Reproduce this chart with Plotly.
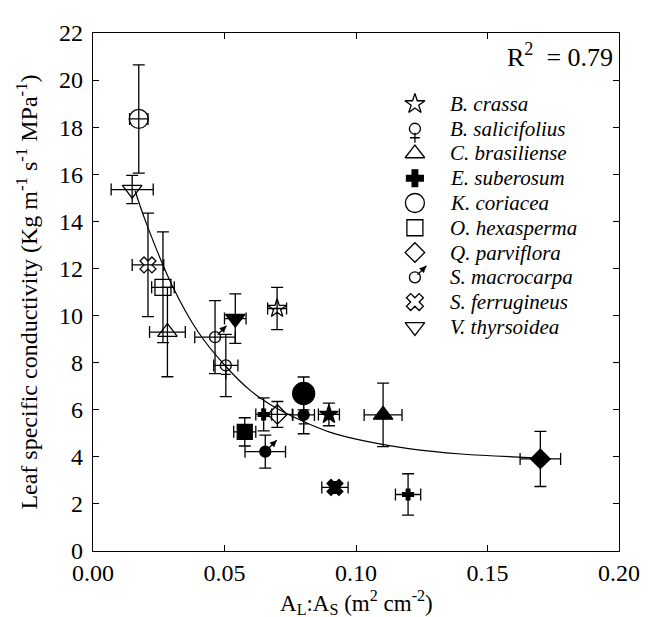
import plotly.graph_objects as go

# ---------------- data ----------------
species = ["B. crassa", "B. salicifolius", "C. brasiliense", "E. suberosum", "K. coriacea",
           "O. hexasperma", "Q. parviflora", "S. macrocarpa", "S. ferrugineus", "V. thyrsoidea"]

# open-symbol points
x_open = [0.070, 0.0505, 0.0283, 0.0649, 0.0174, 0.0266, 0.0701, 0.0464, 0.0209, 0.0149]
y_open = [10.3, 7.88, 9.3, 5.8, 18.35, 11.2, 5.8, 9.08, 12.15, 15.35]
xerr_open = [0.0036, 0.0046, 0.0068, 0.003, 0.0035, 0.0043, 0.0057, 0.0077, 0.006, 0.008]
yerr_open = [0.9, 1.32, 1.9, 0.7, 2.3, 2.35, 0.55, 1.55, 2.2, 0.6]

# filled-symbol points
x_filled = [0.0897, 0.0801, 0.1103, 0.1198, 0.0801, 0.0577, 0.1701, 0.0655, 0.092, 0.0541]
y_filled = [5.8, 5.78, 5.78, 2.4, 6.69, 5.06, 3.91, 4.22, 2.7, 9.87]
xerr_filled = [0.004, 0.0041, 0.0072, 0.0048, 0.002, 0.0042, 0.0077, 0.0077, 0.005, 0.0041]
yerr_filled = [0.48, 0.8, 1.35, 0.88, 0.7, 0.6, 1.17, 0.7, 0.25, 1.05]

# fitted curve, points
curve_x = [0.016, 0.02, 0.03, 0.04, 0.05, 0.06, 0.07, 0.08, 0.09, 0.10, 0.12, 0.14, 0.17]
curve_y = [15.3, 14.0, 11.3, 9.3, 7.9, 6.8, 6.05, 5.5, 5.05, 4.75, 4.35, 4.12, 3.95]

x_ticks = [0.00, 0.05, 0.10, 0.15, 0.20]
y_ticks = [0, 2, 4, 6, 8, 10, 12, 14, 16, 18, 20, 22]
r2_label = "R<sup>2</sup> \u00a0= 0.79"
x_title = "A<sub>L</sub>:A<sub>S</sub> (m<sup>2</sup> cm<sup>-2</sup>)"
y_title = "Leaf specific conductivity (Kg m<sup>-1</sup> s<sup>-1</sup> MPa<sup>-1</sup>)"

# ---------------- styles ----------------
FONT = "Liberation Serif"
KIND = {"B. crassa": "star", "B. salicifolius": "female", "C. brasiliense": "triangle-up",
        "E. suberosum": "cross", "K. coriacea": "circle", "O. hexasperma": "square",
        "Q. parviflora": "diamond", "S. macrocarpa": "male", "S. ferrugineus": "x",
        "V. thyrsoidea": "triangle-down"}
OPEN_SIZE = {"star": 14, "female": 11, "triangle-up": 17, "cross": 9, "circle": 19,
             "square": 16, "diamond": 15, "male": 11, "x": 14, "triangle-down": 17}
FILLED_SIZE = {"star": 14, "female": 11, "triangle-up": 17, "cross": 9, "circle": 22,
               "square": 15, "diamond": 15, "male": 11, "x": 14, "triangle-down": 17}
LEGEND_SIZE = {"star": 15, "female": 11, "triangle-up": 17, "cross": 14, "circle": 19,
               "square": 16, "diamond": 15, "male": 11, "x": 15, "triangle-down": 17}
LW = 1.3

fig = go.Figure()


def add_symbol(x, y, kind, size, filled, ex=None, ey=None, xa="x", ya="y"):
    base = "circle" if kind in ("female", "male") else kind
    sym = base if (filled or kind == "cross") else base + "-open"
    kw = dict(mode="markers", showlegend=False, hoverinfo="skip", xaxis=xa, yaxis=ya)
    err = dict(type="data", symmetric=True, color="black", thickness=1.3, width=6)
    tr = dict(x=x, y=y, marker=dict(symbol=sym, size=size, color="black",
                                    line=dict(color="black", width=LW)), **kw)
    if ex is not None:
        tr["error_x"] = dict(array=ex, **err)
    if ey is not None:
        tr["error_y"] = dict(array=ey, **err)
    fig.add_trace(go.Scatter(**tr))
    if kind == "female":
        # cross below the circle (standoff moves opposite to the marker angle)
        fig.add_trace(go.Scatter(x=x, y=y, marker=dict(symbol="cross-thin-open", size=7, angle=0,
                                                        standoff=size / 2 + 3.5, color="black",
                                                        line=dict(color="black", width=LW)), **kw))
    if kind == "male":
        fig.add_trace(go.Scatter(x=x, y=y, marker=dict(symbol="line-ns-open", size=9, angle=225,
                                                        standoff=size / 2 + 4.5, color="black",
                                                        line=dict(color="black", width=LW)), **kw))
        fig.add_trace(go.Scatter(x=x, y=y, marker=dict(symbol="arrow-down", size=6, angle=225,
                                                        standoff=size / 2 + 10, color="black",
                                                        line=dict(color="black", width=0.5)), **kw))


fig.add_trace(go.Scatter(x=curve_x, y=curve_y, mode="lines", line=dict(color="black", width=1.2, shape="spline"),
                         showlegend=False, hoverinfo="skip"))

for i, sp in enumerate(species):
    k = KIND[sp]
    add_symbol([x_open[i]], [y_open[i]], k, OPEN_SIZE[k], False, [xerr_open[i]], [yerr_open[i]])
    add_symbol([x_filled[i]], [y_filled[i]], k, FILLED_SIZE[k], True, [xerr_filled[i]], [yerr_filled[i]])

# custom legend drawn on an overlay axis spanning the plot area
LEG_SYM_X = 0.612
LEG_TXT_X = 0.675
LEG_TOP = 0.863
LEG_STEP = 0.0478
annotations = []
for i, sp in enumerate(species):
    k = KIND[sp]
    yy = LEG_TOP - i * LEG_STEP
    add_symbol([LEG_SYM_X], [yy], k, LEGEND_SIZE[k], False, xa="x2", ya="y2")
    annotations.append(dict(x=LEG_TXT_X, y=yy, xref="paper", yref="paper", xanchor="left", yanchor="middle",
                            text="<i>%s</i>" % sp, showarrow=False, font=dict(family=FONT, size=21, color="black")))

annotations.append(dict(x=0.992, y=21.05, xref="paper", yref="y", xanchor="right", yanchor="middle",
                        text=r2_label, showarrow=False, font=dict(family=FONT, size=26, color="black")))

# x-axis title placed just above the bottom edge
annotations.append(dict(x=0.5, y=-0.099, xref="paper", yref="paper", xanchor="center", yanchor="middle",
                        text=x_title, showarrow=False, font=dict(family=FONT, size=23, color="black")))

axis_common = dict(showline=True, linecolor="black", linewidth=1.2, mirror="ticks", ticks="inside",
                   ticklen=6, tickwidth=1.2, tickcolor="black", showgrid=False, zeroline=False,
                   tickfont=dict(family=FONT, size=24, color="black"))

fig.update_layout(
    width=649, height=617,
    margin=dict(l=85, r=38, t=20, b=74),
    paper_bgcolor="white", plot_bgcolor="white",
    font=dict(family=FONT, color="black"),
    showlegend=False,
    xaxis=dict(range=[0, 0.2], tickvals=x_ticks, tickformat=".2f", ticklabelstandoff=0, **axis_common),
    yaxis=dict(range=[0, 22], tickvals=y_ticks, ticklabelstandoff=4,
               title=dict(text=y_title, font=dict(family=FONT, size=24), standoff=14), **axis_common),
    xaxis2=dict(range=[0, 1], overlaying="x", anchor="y2", visible=False, fixedrange=True),
    yaxis2=dict(range=[0, 1], overlaying="y", anchor="x2", visible=False, fixedrange=True),
    annotations=annotations,
)

fig.write_html("out.html")
